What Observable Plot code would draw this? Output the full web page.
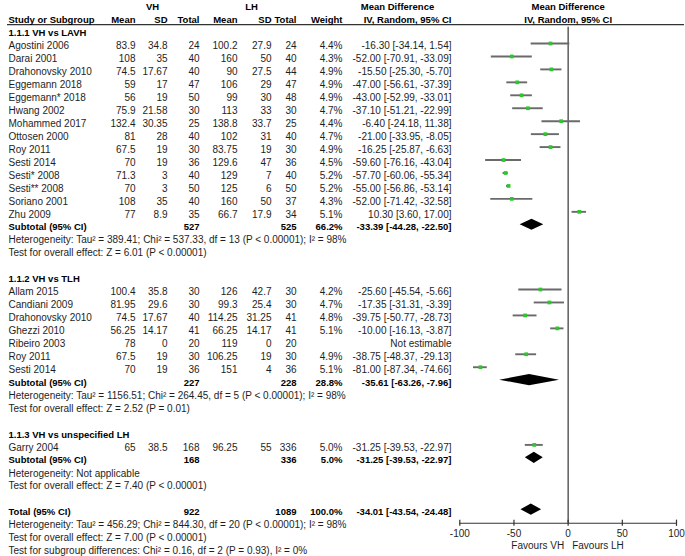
<!DOCTYPE html>
<html><head><meta charset="utf-8">
<script src="https://cdn.jsdelivr.net/npm/d3@7"></script>
<script src="https://cdn.jsdelivr.net/npm/@observablehq/plot@0.6"></script>
<style>
body{margin:0;background:#fff;}
#chart svg{display:block;}
</style></head><body><div id="chart"></div>
<script>
// ---------- data ----------
const studies = ["Agostini 2006","Darai 2001","Drahonovsky 2010","Eggemann 2018","Eggemann* 2018","Hwang 2002","Mohammed 2017","Ottosen 2000","Roy 2011","Sesti 2014","Sesti* 2008","Sesti** 2008","Soriano 2001","Zhu 2009",
  "Allam 2015","Candiani 2009","Drahonovsky 2010","Ghezzi 2010","Ribeiro 2003","Roy 2011","Sesti 2014",
  "Garry 2004"];
const group = [1,1,1,1,1,1,1,1,1,1,1,1,1,1, 2,2,2,2,2,2,2, 3];
const vhMean = [83.9,108,74.5,59,56,75.9,132.4,81,67.5,70,71.3,70,108,77, 100.4,81.95,74.5,56.25,78,67.5,70, 65];
const vhSD   = [34.8,35,17.67,17,19,21.58,30.35,28,19,19,3,3,35,8.9, 35.8,29.6,17.67,14.17,0,19,19, 38.5];
const vhTotal= [24,40,40,47,50,30,25,40,30,36,40,50,40,35, 30,30,40,41,20,30,36, 168];
const lhMean = [100.2,160,90,106,99,113,138.8,102,83.75,129.6,129,125,160,66.7, 126,99.3,114.25,66.25,119,106.25,151, 96.25];
const lhSD   = [27.9,50,27.5,29,30,33,33.7,31,19,47,7,6,50,17.9, 42.7,25.4,31.25,14.17,0,19,4, 55];
const lhTotal= [24,40,44,47,48,30,25,40,30,36,40,50,37,34, 30,30,41,41,20,30,36, 336];
const weight = [4.4,4.3,4.9,4.9,4.9,4.7,4.4,4.7,4.9,4.5,5.2,5.2,4.3,5.1, 4.2,4.7,4.8,5.1,null,4.9,5.1, 5.0];
const meanDiff=[-16.30,-52.00,-15.50,-47.00,-43.00,-37.10,-6.40,-21.00,-16.25,-59.60,-57.70,-55.00,-52.00,10.30, -25.60,-17.35,-39.75,-10.00,null,-38.75,-81.00, -31.25];
const ciLow  = [-34.14,-70.91,-25.30,-56.61,-52.99,-51.21,-24.18,-33.95,-25.87,-76.16,-60.06,-56.86,-71.42,3.60, -45.54,-31.31,-50.77,-16.13,null,-48.37,-87.34, -39.53];
const ciHigh = [1.54,-33.09,-5.70,-37.39,-33.01,-22.99,11.38,-8.05,-6.63,-43.04,-55.34,-53.14,-32.58,17.00, -5.66,-3.39,-28.73,-3.87,null,-29.13,-74.66, -22.97];

const subgroupLabels = ["1.1.1 VH vs LAVH","1.1.2 VH vs TLH","1.1.3 VH vs unspecified LH"];
const subVhTotal = [527,227,168];
const subLhTotal = [525,228,336];
const subWeight  = [66.2,28.8,5.0];
const subMD      = [-33.39,-35.61,-31.25];
const subLow     = [-44.28,-63.26,-39.53];
const subHigh    = [-22.50,-7.96,-22.97];
const subHet = [
  "Heterogeneity: Tau² = 389.41; Chi² = 537.33, df = 13 (P < 0.00001); I² = 98%",
  "Heterogeneity: Tau² = 1156.51; Chi² = 264.45, df = 5 (P < 0.00001); I² = 98%",
  "Heterogeneity: Not applicable"];
const subTest = [
  "Test for overall effect: Z = 6.01 (P < 0.00001)",
  "Test for overall effect: Z = 2.52 (P = 0.01)",
  "Test for overall effect: Z = 7.40 (P < 0.00001)"];

const totalLabel = "Total (95% CI)";
const totalVh = 922, totalLh = 1089, totalWeight = 100.0;
const totalMD = -34.01, totalLow = -43.54, totalHigh = -24.48;
const totalHet = "Heterogeneity: Tau² = 456.29; Chi² = 844.30, df = 20 (P < 0.00001); I² = 98%";
const totalTest = "Test for overall effect: Z = 7.00 (P < 0.00001)";
const subgroupTest = "Test for subgroup differences: Chi² = 0.16, df = 2 (P = 0.93), I² = 0%";

const headerTop = ["VH","LH","Mean Difference"];
const headerCols = ["Study or Subgroup","Mean","SD","Total","Mean","SD","Total","Weight","IV, Random, 95% CI"];
const forestHeader = ["Mean Difference","IV, Random, 95% CI"];
const axisTicks = [-100,-50,0,50,100];
const favours = ["Favours VH","Favours LH"];

// ---------- layout ----------
const M = 7;
const colX = {name:8, vm:135, vs:167, vn:199, lm:237, ls:271, ln:296, w:342, ci:451};
const colAnchor = {name:"start", vm:"end", vs:"end", vn:"end", lm:"end", ls:"end", ln:"end", w:"end", ci:"end"};
const TXT_DY = 2.5;
const BOLD_SIZE = 9.5;

const fmtCI = (m,l,h) => `${m.toFixed(2)} [${l.toFixed(2)}, ${h.toFixed(2)}]`;
const cells = [];
const forest = [];
const diamonds = [];
const add = (r, col, text, bold=false) => cells.push({r, col, text: String(text), bold});

let r = -1;
subgroupLabels.forEach((label, g) => {
  add(r, "name", label, true); r++;
  studies.forEach((s, i) => {
    if (group[i] !== g + 1) return;
    add(r, "name", s);
    add(r, "vm", vhMean[i]); add(r, "vs", vhSD[i]); add(r, "vn", vhTotal[i]);
    add(r, "lm", lhMean[i]); add(r, "ls", lhSD[i]); add(r, "ln", lhTotal[i]);
    if (weight[i] != null) {
      add(r, "w", weight[i].toFixed(1) + "%");
      add(r, "ci", fmtCI(meanDiff[i], ciLow[i], ciHigh[i]));
      forest.push({r, md: meanDiff[i], lo: ciLow[i], hi: ciHigh[i], w: weight[i]});
    } else {
      add(r, "ci", "Not estimable");
    }
    r++;
  });
  add(r, "name", "Subtotal (95% CI)", true);
  add(r, "vn", subVhTotal[g], true); add(r, "ln", subLhTotal[g], true);
  add(r, "w", subWeight[g].toFixed(1) + "%", true);
  add(r, "ci", fmtCI(subMD[g], subLow[g], subHigh[g]), true);
  diamonds.push({id: "s" + g, r, md: subMD[g], lo: subLow[g], hi: subHigh[g]});
  r++;
  add(r, "name", subHet[g]); r++;
  add(r, "name", subTest[g]); r++;
  r++;
});
add(r, "name", totalLabel, true);
add(r, "vn", totalVh, true); add(r, "ln", totalLh, true);
add(r, "w", totalWeight.toFixed(1) + "%", true);
add(r, "ci", fmtCI(totalMD, totalLow, totalHigh), true);
diamonds.push({id: "t", r, md: totalMD, lo: totalLow, hi: totalHigh});
r++;
add(r, "name", totalHet); r++;
add(r, "name", totalTest); r++;
add(r, "name", subgroupTest);

const hTop = -3.05, hCol = -2.02;
const headerCells = [
  {text: headerTop[0], px: 152, anchor: "middle", row: hTop},
  {text: headerTop[1], px: 251, anchor: "middle", row: hTop},
  {text: headerTop[2], px: 397, anchor: "middle", row: hTop},
  ...headerCols.map((t, k) => {
    const key = Object.keys(colX)[k];
    return {text: t, px: colX[key], anchor: colAnchor[key], row: hCol};
  })
];

const diamondPts = diamonds.flatMap(d => [
  {id: d.id, x: d.lo, y1: d.r, y2: d.r},
  {id: d.id, x: d.md, y1: d.r - 0.43, y2: d.r + 0.43},
  {id: d.id, x: d.hi, y1: d.r, y2: d.r}
]);

const axisRow = 37.05;

const textMarks = [];
for (const key of Object.keys(colX)) {
  for (const bold of [false, true]) {
    const data = cells.filter(c => c.col === key && c.bold === bold);
    if (!data.length) continue;
    textMarks.push(Plot.text(data, {
      y: "r", text: "text", frameAnchor: "left", dx: colX[key] - M, dy: TXT_DY,
      textAnchor: colAnchor[key], fontWeight: bold ? "bold" : "normal",
      fontSize: bold ? BOLD_SIZE : 10,
      fill: bold ? "#000" : "#1e1e1e"
    }));
  }
}
for (const h of headerCells) {
  textMarks.push(Plot.text([h], {
    y: d => d.row, text: "text", frameAnchor: "left", dx: h.px - M, dy: TXT_DY,
    textAnchor: h.anchor, fontWeight: "bold", fontSize: BOLD_SIZE, fill: "#000"
  }));
}

const chart = Plot.plot({
  width: 685, height: 556,
  marginLeft: M, marginRight: 1, marginTop: 0, marginBottom: 0,
  x: {domain: [-100, 100], range: [459.3, 676], axis: null},
  y: {domain: [0, 39], range: [43, 548], axis: null},
  style: {fontFamily: "'Liberation Sans', Arial, sans-serif", fontSize: "10px", background: "#fff", overflow: "visible"},
  marks: [
    Plot.ruleY([-1.45], {stroke: "#333", strokeWidth: 1.2}),
    ...textMarks,
    Plot.text(forestHeader, {x: 0, y: (d, i) => i === 0 ? hTop : hCol, dy: TXT_DY, text: d => d, fontWeight: "bold", fontSize: BOLD_SIZE, fill: "#000"}),
    Plot.ruleX([0], {y1: -1.26, y2: axisRow, stroke: "#444", strokeWidth: 1.3}),
    Plot.ruleY(forest, {y: "r", x1: "lo", x2: "hi", stroke: "#6a6a6a", strokeWidth: 1.9}),
    Plot.dot(forest, {x: "md", y: "r", symbol: "square", r: 2.1, fill: "#2ec52e", stroke: null}),
    Plot.area(diamondPts, {x1: "x", y1: "y1", y2: "y2", z: "id", fill: "#000"}),
    Plot.ruleY([axisRow], {x1: axisTicks[0], x2: axisTicks[axisTicks.length - 1], stroke: "#333", strokeWidth: 1.2}),
    Plot.ruleX(axisTicks, {x: d => d, y1: axisRow - 0.24, y2: axisRow + 0.24, stroke: "#333", strokeWidth: 1.2}),
    Plot.text(axisTicks, {x: d => d, y: axisRow + 0.8, text: d => String(d), fill: "#1e1e1e"}),
    Plot.text([favours[0]], {x: 0, y: axisRow + 1.72, dx: -4, textAnchor: "end", text: d => d, fill: "#1e1e1e"}),
    Plot.text([favours[1]], {x: 0, y: axisRow + 1.72, dx: 4, textAnchor: "start", text: d => d, fill: "#1e1e1e"})
  ]
});
document.getElementById("chart").appendChild(chart);
</script>
</body></html>
